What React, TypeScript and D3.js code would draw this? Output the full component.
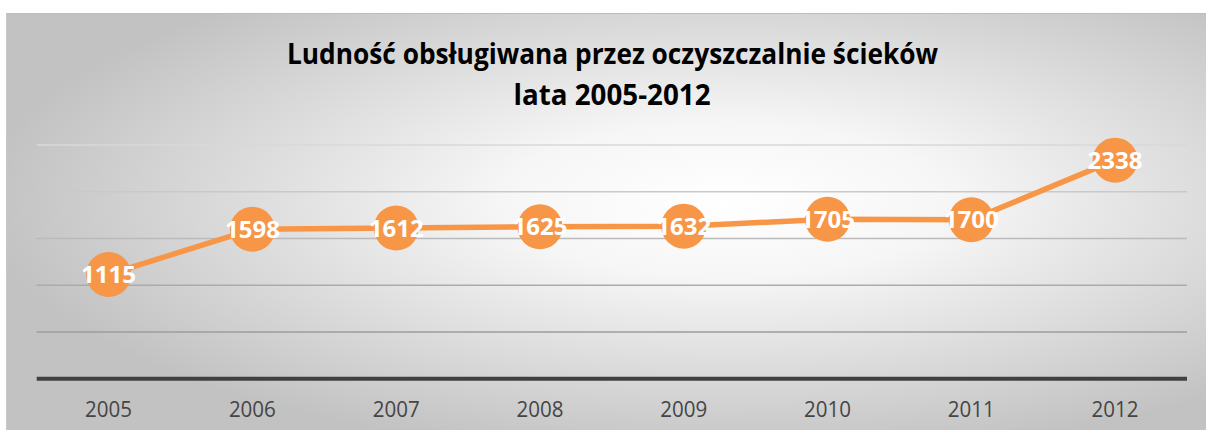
import React from 'react';
import * as d3 from 'd3';

// data
const years = ['2005', '2006', '2007', '2008', '2009', '2010', '2011', '2012'];
const population = [1115, 1598, 1612, 1625, 1632, 1705, 1700, 2338];
const gridTicks = [500, 1000, 1500, 2000, 2500];
const titleLines = ['Ludność obsługiwana przez oczyszczalnie ścieków', 'lata 2005-2012'];

const W = 1206;
const H = 430;
const plot = { left: 36.7, right: 1187, top: 145, bottom: 378.7 };
const orange = '#F79646';

export default function App() {
  const x = d3
    .scalePoint<string>()
    .domain(years)
    .range([plot.left, plot.right])
    .padding(0.5);
  const y = d3.scaleLinear().domain([0, 2500]).range([plot.bottom, plot.top]);

  const line = d3
    .line<number>()
    .x((d, i) => x(years[i]) as number)
    .y(d => y(d));

  // grid gets darker toward the bottom
  const gridColor = d3
    .scaleLinear<string>()
    .domain([2500, 500])
    .range(['#d8d8d8', '#9c9c9c']);

  return (
    <svg
      width={W}
      height={H}
      style={{ position: 'absolute', left: 0, top: 0, display: 'block' }}
    >
      <defs>
        <radialGradient id="bg" cx="0.6" cy="0.45" r="0.62">
          <stop offset="0" stopColor="#ffffff" />
          <stop offset="0.3" stopColor="#f6f6f6" />
          <stop offset="1" stopColor="#c2c2c2" />
        </radialGradient>
      </defs>
      <rect x={6} y={13} width={W - 6} height={H - 13} fill="url(#bg)" />
      <line x1={6} x2={W} y1={13.5} y2={13.5} stroke="#bcbcbc" strokeWidth={1} />
      <line x1={6.5} x2={6.5} y1={13} y2={H} stroke="#c8c8c8" strokeWidth={1} />

      <g fontFamily="'Open Sans', sans-serif" fontWeight="bold" fill="#000" textAnchor="middle">
        <text x={612.5} y={63.5} fontSize={28} textLength={651} lengthAdjust="spacingAndGlyphs">
          {titleLines[0]}
        </text>
        <text x={612} y={104.5} fontSize={28} textLength={197} lengthAdjust="spacingAndGlyphs">
          {titleLines[1]}
        </text>
      </g>

      <g>
        {gridTicks.map(t => (
          <line
            key={t}
            x1={plot.left}
            x2={plot.right}
            y1={y(t)}
            y2={y(t)}
            stroke={gridColor(t)}
            strokeWidth={1.5}
          />
        ))}
      </g>
      <line
        x1={plot.left}
        x2={plot.right}
        y1={y(0)}
        y2={y(0)}
        stroke="#404040"
        strokeWidth={4}
      />

      <g fontFamily="'Open Sans', sans-serif" fontSize={21} fill="#454545" textAnchor="middle">
        {years.map(yr => (
          <text key={yr} x={x(yr)} y={416.5} textLength={47} lengthAdjust="spacingAndGlyphs">
            {yr}
          </text>
        ))}
      </g>

      <path
        d={line(population) || ''}
        fill="none"
        stroke={orange}
        strokeWidth={5.5}
        strokeLinejoin="round"
      />
      {population.map((v, i) => (
        <circle key={i} cx={x(years[i])} cy={y(v)} r={22.5} fill={orange} />
      ))}
      <g fontFamily="'Open Sans', sans-serif" fontWeight="bold" fontSize={24} fill="#fff" textAnchor="middle">
        {population.map((v, i) => (
          <text key={i} x={x(years[i])} y={y(v)} dy="0.36em" textLength={55} lengthAdjust="spacingAndGlyphs">
            {v}
          </text>
        ))}
      </g>
    </svg>
  );
}
